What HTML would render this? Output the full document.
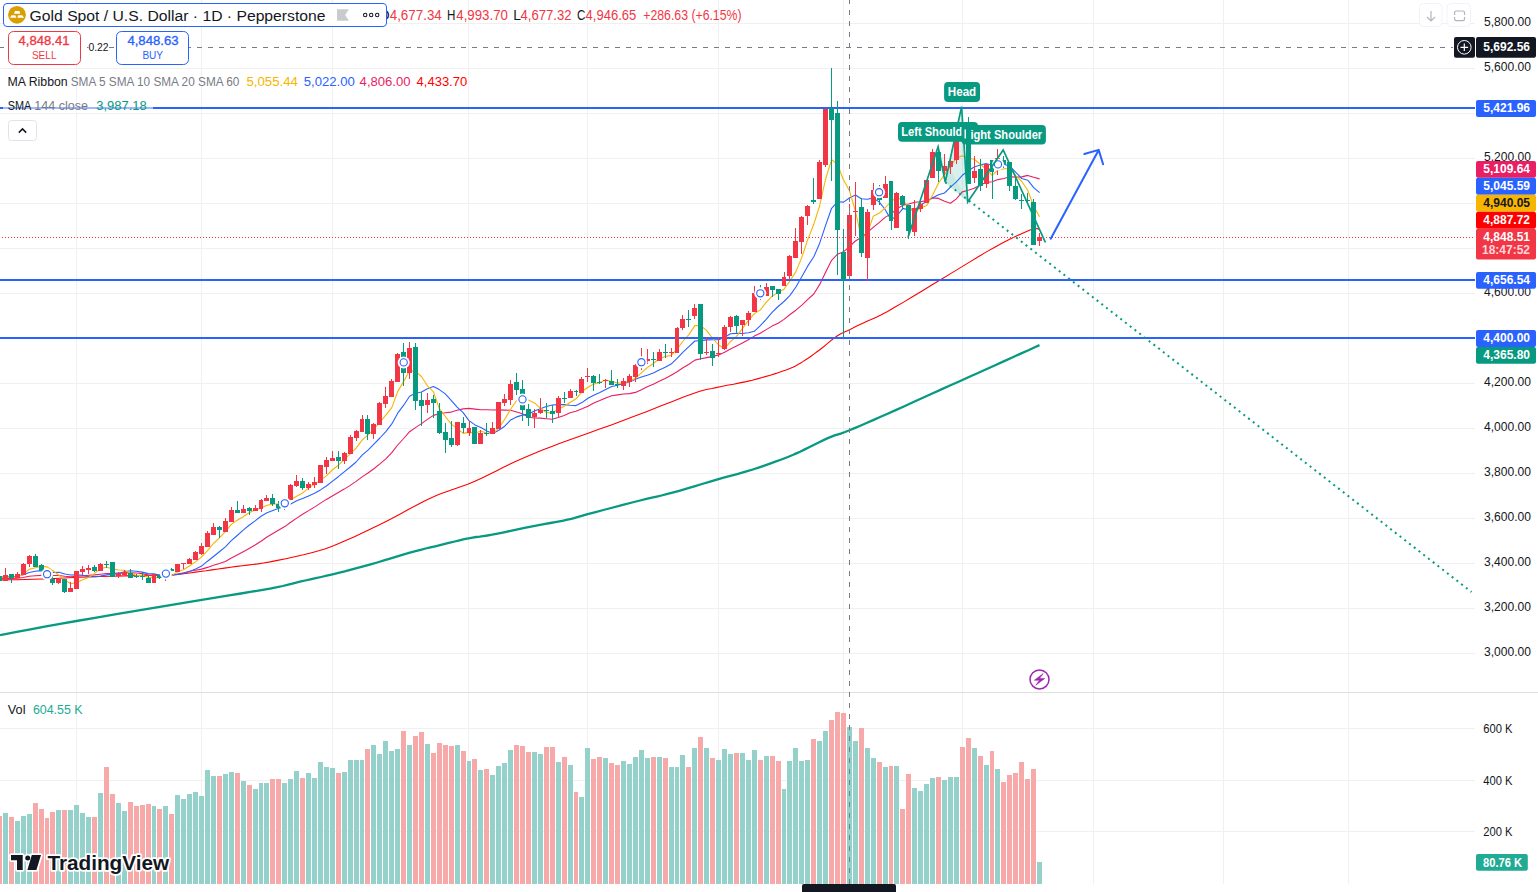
<!DOCTYPE html>
<html><head><meta charset="utf-8">
<style>
html,body{margin:0;padding:0;background:#fff;}
body{width:1538px;height:892px;overflow:hidden;position:relative;font-family:"Liberation Sans",sans-serif;color:#131722;}
svg{position:absolute;left:0;top:0;font-family:"Liberation Sans",sans-serif;}
.lg{position:absolute;white-space:nowrap;line-height:1;}
</style></head><body>
<svg width="1538" height="892" viewBox="0 0 1538 892">
<path d="M0 23.5H1475M0 68.5H1475M0 113.5H1475M0 158.5H1475M0 203.5H1475M0 248.5H1475M0 293.5H1475M0 338.5H1475M0 383.5H1475M0 428.5H1475M0 473.5H1475M0 518.5H1475M0 563.5H1475M0 608.5H1475M0 653.5H1475M0 728.5H1475M0 780.5H1475M0 831.5H1475M76.5 0V692M76.5 693V884M201.5 0V692M201.5 693V884M332.5 0V692M332.5 693V884M468.5 0V692M468.5 693V884M587.5 0V692M587.5 693V884M718.5 0V692M718.5 693V884M843.5 0V692M843.5 693V884M962.5 0V692M962.5 693V884M1093.5 0V692M1093.5 693V884M1223.5 0V692M1223.5 693V884M1348.5 0V692M1348.5 693V884" stroke="#F0F0F1" stroke-width="1" fill="none"/>
<rect x="0" y="692" width="1538" height="1" fill="#E0E0E2"/>
<path d="M3 813H8V884H3ZM15 821H20V884H15ZM21 816H26V884H21ZM27 814H32V884H27ZM56 810H61V884H56ZM68 810H73V884H68ZM74 805H79V884H74ZM80 813H85V884H80ZM86 817H91V884H86ZM98 793H103V884H98ZM116 803H121V884H116ZM122 811H127V884H122ZM152 806H156V884H152ZM163 806H168V884H163ZM175 795H180V884H175ZM181 799H186V884H181ZM187 794H192V884H187ZM193 792H198V884H193ZM199 796H204V884H199ZM205 770H210V884H205ZM211 776H216V884H211ZM223 774H228V884H223ZM229 772H234V884H229ZM241 781H246V884H241ZM253 789H258V884H253ZM259 783H263V884H259ZM264 783H269V884H264ZM282 783H287V884H282ZM288 779H293V884H288ZM294 771H299V884H294ZM306 773H311V884H306ZM312 778H317V884H312ZM318 762H323V884H318ZM324 767H329V884H324ZM330 768H335V884H330ZM342 772H347V884H342ZM348 760H353V884H348ZM354 760H359V884H354ZM360 760H364V884H360ZM371 745H376V884H371ZM377 754H382V884H377ZM383 741H388V884H383ZM389 751H394V884H389ZM395 749H400V884H395ZM407 745H412V884H407ZM425 744H430V884H425ZM455 745H460V884H455ZM467 761H471V884H467ZM478 770H483V884H478ZM490 775H495V884H490ZM496 766H501V884H496ZM502 763H507V884H502ZM508 750H513V884H508ZM532 752H537V884H532ZM538 754H543V884H538ZM556 762H561V884H556ZM568 765H573V884H568ZM579 797H584V884H579ZM585 748H590V884H585ZM603 758H608V884H603ZM621 761H626V884H621ZM627 764H632V884H627ZM633 757H638V884H633ZM639 750H644V884H639ZM645 758H650V884H645ZM657 757H662V884H657ZM669 767H674V884H669ZM675 767H679V884H675ZM680 755H685V884H680ZM692 748H697V884H692ZM704 748H709V884H704ZM716 760H721V884H716ZM722 749H727V884H722ZM728 754H733V884H728ZM740 753H745V884H740ZM746 760H751V884H746ZM752 750H757V884H752ZM764 756H769V884H764ZM782 789H786V884H782ZM787 761H792V884H787ZM793 748H798V884H793ZM799 761H804V884H799ZM805 760H810V884H805ZM817 741H822V884H817ZM823 731H828V884H823ZM847 727H852V884H847ZM853 741H858V884H853ZM865 748H870V884H865ZM871 758H876V884H871ZM883 767H888V884H883ZM894 766H899V884H894ZM912 788H917V884H912ZM918 791H923V884H918ZM924 784H929V884H924ZM930 778H935V884H930ZM942 780H947V884H942ZM948 777H953V884H948ZM954 777H959V884H954ZM972 748H977V884H972ZM984 765H989V884H984ZM995 769H1000V884H995ZM1037 862H1042V884H1037Z" fill="#93D1CA" shape-rendering="crispEdges"/>
<path d="M-3 816H2V884H-3ZM9 817H14V884H9ZM33 803H38V884H33ZM39 809H44V884H39ZM45 818H49V884H45ZM50 812H55V884H50ZM62 810H67V884H62ZM92 817H97V884H92ZM104 767H109V884H104ZM110 794H115V884H110ZM128 802H133V884H128ZM134 806H139V884H134ZM140 805H145V884H140ZM146 804H151V884H146ZM157 809H162V884H157ZM169 814H174V884H169ZM217 776H222V884H217ZM235 773H240V884H235ZM247 785H252V884H247ZM270 779H275V884H270ZM276 779H281V884H276ZM300 778H305V884H300ZM336 773H341V884H336ZM365 749H370V884H365ZM401 731H406V884H401ZM413 736H418V884H413ZM419 732H424V884H419ZM431 753H436V884H431ZM437 743H442V884H437ZM443 745H448V884H443ZM449 746H454V884H449ZM461 751H466V884H461ZM472 759H477V884H472ZM484 769H489V884H484ZM514 745H519V884H514ZM520 746H525V884H520ZM526 752H531V884H526ZM544 747H549V884H544ZM550 747H555V884H550ZM562 757H567V884H562ZM574 792H578V884H574ZM591 759H596V884H591ZM597 757H602V884H597ZM609 763H614V884H609ZM615 765H620V884H615ZM651 757H656V884H651ZM663 758H668V884H663ZM686 767H691V884H686ZM698 737H703V884H698ZM710 758H715V884H710ZM734 753H739V884H734ZM758 760H763V884H758ZM770 756H775V884H770ZM776 761H781V884H776ZM811 739H816V884H811ZM829 720H834V884H829ZM835 712H840V884H835ZM841 713H846V884H841ZM859 728H864V884H859ZM877 762H882V884H877ZM889 766H893V884H889ZM900 809H905V884H900ZM906 774H911V884H906ZM936 777H941V884H936ZM960 747H965V884H960ZM966 738H971V884H966ZM978 756H983V884H978ZM990 751H994V884H990ZM1001 782H1006V884H1001ZM1007 775H1012V884H1007ZM1013 773H1018V884H1013ZM1019 762H1024V884H1019ZM1025 779H1030V884H1025ZM1031 769H1036V884H1031Z" fill="#F7A9A9" shape-rendering="crispEdges"/>
<path d="M0.0 635.1 L7.8 633.6 L18.1 631.7 L30.5 629.4 L44.7 626.7 L60.1 623.9 L76.5 621.0 L95.0 617.8 L116.3 614.2 L138.8 610.4 L161.3 606.6 L182.2 603.1 L200.3 600.1 L215.5 597.6 L229.0 595.4 L241.0 593.5 L251.7 591.7 L261.3 590.1 L270.0 588.6 L277.3 587.2 L282.8 586.0 L287.3 584.9 L291.3 583.9 L295.3 582.8 L300.0 581.7 L305.2 580.5 L310.4 579.4 L315.7 578.2 L321.2 577.0 L326.7 575.7 L332.5 574.3 L338.5 572.8 L344.7 571.3 L351.1 569.6 L357.6 567.9 L364.1 566.2 L370.6 564.4 L377.2 562.5 L384.0 560.4 L390.8 558.3 L397.4 556.3 L403.9 554.3 L409.9 552.6 L415.5 551.1 L420.7 549.8 L425.6 548.5 L430.4 547.4 L435.2 546.3 L440.0 545.1 L444.9 543.9 L449.8 542.7 L454.7 541.5 L459.5 540.3 L464.2 539.2 L468.6 538.3 L472.6 537.6 L476.2 537.0 L479.7 536.6 L483.2 536.1 L487.3 535.5 L492.0 534.7 L497.6 533.6 L503.9 532.3 L510.7 530.9 L517.6 529.4 L524.5 527.9 L531.0 526.6 L537.4 525.4 L543.9 524.2 L550.4 523.0 L556.6 521.9 L562.3 520.8 L567.4 519.7 L571.3 518.8 L574.1 518.1 L576.5 517.4 L579.1 516.6 L582.6 515.6 L587.6 514.2 L594.7 512.3 L603.4 510.0 L613.0 507.5 L622.8 504.9 L632.1 502.5 L640.0 500.5 L646.4 498.9 L651.9 497.7 L656.8 496.6 L661.5 495.5 L666.6 494.2 L672.4 492.7 L679.2 490.8 L686.6 488.6 L694.3 486.3 L702.0 484.0 L709.3 481.8 L716.0 479.8 L721.9 478.1 L727.3 476.7 L732.3 475.4 L737.2 474.1 L742.1 472.7 L747.3 471.2 L752.8 469.5 L758.6 467.6 L764.4 465.6 L770.0 463.6 L775.3 461.7 L780.0 460.0 L784.0 458.5 L787.3 457.2 L790.3 456.0 L793.2 454.8 L796.3 453.4 L800.0 451.7 L804.3 449.6 L809.1 447.3 L814.1 444.8 L819.2 442.2 L824.0 439.9 L828.4 437.9 L832.1 436.4 L835.3 435.2 L838.3 434.3 L841.4 433.3 L845.0 432.0 L849.4 430.3 L854.6 428.1 L860.3 425.7 L866.5 423.0 L873.1 420.1 L880.1 417.0 L887.6 413.7 L895.7 410.1 L904.4 406.2 L913.5 402.0 L922.9 397.8 L932.3 393.5 L941.4 389.4 L950.5 385.3 L959.7 381.2 L968.9 377.0 L978.0 373.0 L986.8 369.0 L995.2 365.2 L1003.6 361.4 L1012.3 357.5 L1020.7 353.6 L1028.4 350.2 L1034.8 347.2 L1039.5 345.1" stroke="#089981" stroke-width="2.3" fill="none" stroke-linejoin="round"/>
<path d="M0.0 580.0 L4.4 579.9 L10.3 579.8 L17.4 579.7 L25.3 579.5 L33.6 579.3 L42.0 579.0 L50.6 578.7 L59.7 578.3 L69.2 577.8 L79.1 577.3 L89.4 576.9 L100.0 576.5 L111.6 576.2 L124.3 575.9 L137.3 575.6 L150.0 575.3 L161.5 575.0 L171.1 574.6 L178.3 574.2 L183.7 573.7 L187.9 573.3 L191.6 572.7 L195.5 572.1 L200.3 571.5 L206.0 570.8 L212.0 569.9 L218.2 569.0 L224.5 568.1 L230.7 567.2 L236.7 566.4 L242.2 565.7 L247.5 565.1 L252.6 564.5 L257.9 563.9 L263.6 563.0 L270.0 561.9 L277.5 560.4 L285.8 558.7 L294.7 556.8 L303.4 554.8 L311.6 552.7 L318.8 550.8 L324.7 549.0 L329.6 547.3 L334.0 545.6 L338.3 543.8 L342.8 541.8 L348.0 539.5 L353.9 536.9 L360.1 534.1 L366.5 531.0 L373.2 527.8 L380.0 524.5 L387.0 521.0 L394.2 517.3 L401.6 513.2 L409.2 509.1 L416.9 504.9 L424.5 501.0 L431.9 497.4 L439.2 494.3 L446.3 491.7 L453.5 489.2 L460.6 486.7 L467.7 484.2 L474.8 481.3 L482.0 478.1 L489.1 474.6 L496.3 471.0 L503.4 467.3 L510.6 463.8 L517.7 460.5 L524.6 457.5 L531.1 454.7 L537.6 452.0 L544.4 449.3 L551.8 446.4 L560.0 443.3 L569.1 439.9 L579.0 436.4 L589.5 432.7 L600.3 428.8 L611.3 424.9 L622.4 420.8 L634.2 416.3 L647.0 411.4 L659.9 406.3 L672.4 401.4 L683.5 397.1 L692.6 393.8 L699.1 391.6 L703.4 390.2 L706.4 389.5 L709.0 389.0 L711.9 388.5 L716.0 387.6 L721.3 386.5 L727.2 385.3 L733.4 384.2 L739.8 382.9 L746.2 381.6 L752.2 380.2 L758.2 378.6 L764.3 376.9 L770.3 375.2 L776.1 373.4 L781.4 371.6 L786.0 370.0 L789.8 368.5 L792.9 367.2 L795.5 365.9 L797.9 364.6 L800.3 363.2 L802.9 361.6 L805.7 359.8 L808.5 358.0 L811.3 356.0 L814.2 353.9 L817.0 351.8 L819.8 349.7 L822.7 347.5 L825.6 345.1 L828.5 342.6 L831.4 340.2 L834.1 338.1 L836.7 336.2 L839.1 334.7 L841.3 333.5 L843.4 332.5 L845.5 331.6 L847.5 330.7 L849.4 329.8 L851.1 328.9 L852.5 328.2 L853.8 327.5 L855.3 326.7 L857.3 325.7 L860.0 324.4 L863.3 322.9 L867.0 321.3 L871.1 319.6 L875.8 317.4 L881.3 314.8 L887.6 311.4 L895.1 307.1 L903.6 302.1 L912.9 296.5 L922.5 290.7 L932.1 284.8 L941.4 279.2 L950.6 273.6 L960.0 267.9 L969.5 262.1 L978.7 256.5 L987.3 251.4 L995.2 246.9 L1002.4 243.0 L1009.2 239.5 L1015.4 236.5 L1021.0 233.9 L1026.0 231.7 L1030.1 230.0 L1033.3 228.9 L1035.5 228.6 L1037.0 228.6 L1038.1 229.0 L1038.9 229.3 L1039.6 229.4" stroke="#FF0000" stroke-width="1.1" fill="none" stroke-linejoin="round"/>
<path d="M-0.5 578.6 L5.5 578.4 L11.4 578.4 L17.3 578.2 L23.3 577.5 L29.2 576.3 L35.2 575.8 L41.1 575.4 L47.1 575.3 L53.0 575.5 L58.9 575.5 L64.9 576.2 L70.8 576.7 L76.8 576.3 L82.7 575.8 L88.7 575.3 L94.6 574.9 L100.5 574.2 L106.5 573.5 L112.4 573.4 L118.4 573.1 L124.3 572.9 L130.3 572.9 L136.2 573.0 L142.1 573.6 L148.1 575.0 L154.0 575.4 L160.0 575.7 L165.9 575.4 L171.9 574.8 L177.8 574.1 L183.8 572.7 L189.7 571.2 L195.6 570.2 L201.6 569.1 L207.5 567.4 L213.5 565.2 L219.4 563.5 L225.4 561.4 L231.3 558.0 L237.2 555.0 L243.2 551.8 L249.1 548.5 L255.1 545.0 L261.0 541.2 L267.0 537.0 L272.9 533.5 L278.8 530.0 L284.8 526.6 L290.7 522.2 L296.7 518.1 L302.6 514.3 L308.6 510.6 L314.5 507.1 L320.5 503.1 L326.4 499.4 L332.3 496.0 L338.3 492.5 L344.2 489.1 L350.2 485.4 L356.1 481.4 L362.1 476.9 L368.0 473.0 L373.9 468.8 L379.9 463.9 L385.8 458.8 L391.8 452.7 L397.7 445.0 L403.7 438.5 L409.6 431.7 L415.5 427.6 L421.5 423.6 L427.4 419.4 L433.4 415.4 L439.3 413.8 L445.3 412.8 L451.2 412.1 L457.1 410.2 L463.1 408.9 L469.0 408.4 L475.0 409.1 L480.9 409.8 L486.9 409.8 L492.8 410.0 L498.8 409.9 L504.7 410.1 L510.6 410.2 L516.6 412.0 L522.5 413.8 L528.5 417.3 L534.4 418.0 L540.4 418.1 L546.3 418.7 L552.2 419.2 L558.2 417.5 L564.1 415.4 L570.1 412.7 L576.0 411.2 L582.0 408.8 L587.9 406.2 L593.8 403.1 L599.8 400.6 L605.7 397.9 L611.7 395.8 L617.6 394.9 L623.6 394.0 L629.5 393.6 L635.5 392.4 L641.4 389.8 L647.3 386.8 L653.3 384.2 L659.2 381.3 L665.2 378.4 L671.1 375.3 L677.1 371.8 L683.0 367.8 L688.9 364.3 L694.9 360.1 L700.8 358.8 L706.8 357.6 L712.7 356.4 L718.7 354.9 L724.6 352.3 L730.5 348.9 L736.5 345.9 L742.4 342.9 L748.4 339.7 L754.3 336.1 L760.3 333.2 L766.2 329.6 L772.1 326.1 L778.1 323.2 L784.0 319.4 L790.0 314.5 L795.9 310.2 L801.9 305.1 L807.8 299.4 L813.8 294.0 L819.7 284.4 L825.6 272.3 L831.6 260.3 L837.5 254.2 L843.5 251.8 L849.4 246.7 L855.4 241.0 L861.3 237.6 L867.2 232.6 L873.2 227.4 L879.1 222.6 L885.1 217.4 L891.0 213.9 L897.0 208.9 L902.9 205.3 L908.8 204.0 L914.8 202.3 L920.7 201.7 L926.7 200.4 L932.6 197.9 L938.6 198.4 L944.5 201.3 L950.5 203.3 L956.4 198.9 L962.3 191.9 L968.3 190.3 L974.2 188.3 L980.2 184.9 L986.1 182.5 L992.1 181.7 L998.0 179.6 L1003.9 178.5 L1009.9 176.8 L1015.8 177.1 L1021.8 176.9 L1027.7 175.4 L1033.7 177.3 L1039.6 178.9" stroke="#E91E63" stroke-width="1.1" fill="none" stroke-linejoin="round"/>
<path d="M-0.5 577.0 L5.5 576.7 L11.4 576.6 L17.3 576.2 L23.3 574.7 L29.2 572.5 L35.2 571.3 L41.1 570.6 L47.1 571.3 L53.0 572.5 L58.9 572.3 L64.9 574.0 L70.8 575.0 L76.8 574.7 L82.7 575.2 L88.7 576.4 L94.6 576.8 L100.5 576.1 L106.5 574.9 L112.4 574.3 L118.4 573.8 L124.3 571.8 L130.3 570.8 L136.2 571.3 L142.1 572.1 L148.1 573.6 L154.0 573.9 L160.0 575.3 L165.9 575.9 L171.9 575.4 L177.8 574.4 L183.8 573.5 L189.7 571.6 L195.6 569.1 L201.6 566.1 L207.5 561.2 L213.5 556.5 L219.4 551.8 L225.4 546.8 L231.3 540.6 L237.2 535.5 L243.2 530.1 L249.1 525.3 L255.1 520.9 L261.0 516.3 L267.0 512.8 L272.9 510.5 L278.8 508.3 L284.8 506.4 L290.7 503.9 L296.7 500.7 L302.6 498.6 L308.6 495.9 L314.5 493.3 L320.5 489.9 L326.4 486.0 L332.3 481.4 L338.3 476.7 L344.2 471.8 L350.2 467.0 L356.1 462.0 L362.1 455.1 L368.0 450.1 L373.9 444.2 L379.9 438.0 L385.8 431.6 L391.8 423.9 L397.7 413.2 L403.7 405.2 L409.6 396.3 L415.5 393.3 L421.5 392.0 L427.4 388.7 L433.4 386.6 L439.3 389.6 L445.3 393.9 L451.2 400.3 L457.1 407.1 L463.1 412.6 L469.0 420.6 L475.0 424.9 L480.9 427.5 L486.9 430.9 L492.8 433.4 L498.8 430.3 L504.7 426.2 L510.6 420.1 L516.6 416.9 L522.5 415.1 L528.5 414.1 L534.4 411.1 L540.4 408.8 L546.3 406.5 L552.2 405.0 L558.2 404.6 L564.1 404.6 L570.1 405.3 L576.0 405.6 L582.0 402.6 L587.9 398.3 L593.8 395.2 L599.8 392.5 L605.7 389.4 L611.7 386.5 L617.6 385.2 L623.6 383.4 L629.5 381.9 L635.5 379.2 L641.4 377.0 L647.3 375.3 L653.3 373.1 L659.2 370.0 L665.2 367.3 L671.1 364.1 L677.1 358.4 L683.0 352.2 L688.9 346.7 L694.9 341.0 L700.8 340.6 L706.8 339.9 L712.7 339.7 L718.7 339.8 L724.6 337.2 L730.5 333.7 L736.5 333.4 L742.4 333.5 L748.4 332.8 L754.3 331.3 L760.3 325.7 L766.2 319.3 L772.1 312.4 L778.1 306.5 L784.0 301.5 L790.0 295.4 L795.9 287.0 L801.9 276.6 L807.8 265.9 L813.8 256.8 L819.7 243.2 L825.6 225.3 L831.6 208.3 L837.5 201.8 L843.5 202.1 L849.4 198.0 L855.4 195.0 L861.3 198.7 L867.2 199.3 L873.2 198.1 L879.1 201.9 L885.1 209.5 L891.0 219.6 L897.0 215.9 L902.9 208.4 L908.8 210.0 L914.8 209.7 L920.7 204.8 L926.7 201.6 L932.6 197.7 L938.6 194.8 L944.5 193.0 L950.5 187.1 L956.4 181.8 L962.3 175.3 L968.3 170.7 L974.2 167.0 L980.2 165.1 L986.1 163.5 L992.1 165.6 L998.0 164.3 L1003.9 164.0 L1009.9 166.5 L1015.8 172.3 L1021.8 178.5 L1027.7 180.2 L1033.7 187.6 L1039.6 192.7" stroke="#2962FF" stroke-width="1.1" fill="none" stroke-linejoin="round"/>
<path d="M-0.5 576.9 L5.5 576.7 L11.4 577.1 L17.3 576.8 L23.3 574.4 L29.2 569.4 L35.2 567.8 L41.1 566.4 L47.1 566.9 L53.0 570.7 L58.9 575.2 L64.9 580.3 L70.8 583.7 L76.8 582.5 L82.7 579.8 L88.7 577.5 L94.6 573.4 L100.5 568.6 L106.5 567.2 L112.4 568.7 L118.4 570.0 L124.3 570.2 L130.3 573.0 L136.2 575.5 L142.1 575.4 L148.1 577.1 L154.0 577.6 L160.0 577.6 L165.9 576.4 L171.9 575.4 L177.8 571.7 L183.8 569.5 L189.7 565.7 L195.6 561.9 L201.6 556.9 L207.5 550.7 L213.5 543.5 L219.4 537.8 L225.4 531.6 L231.3 524.4 L237.2 520.3 L243.2 516.7 L249.1 512.8 L255.1 510.1 L261.0 508.1 L267.0 505.3 L272.9 504.3 L278.8 503.8 L284.8 502.6 L290.7 499.6 L296.7 496.2 L302.6 492.9 L308.6 488.1 L314.5 484.1 L320.5 480.1 L326.4 475.9 L332.3 470.0 L338.3 465.3 L344.2 459.5 L350.2 453.9 L356.1 448.1 L362.1 440.2 L368.0 434.9 L373.9 429.0 L379.9 422.2 L385.8 415.2 L391.8 407.6 L397.7 391.6 L403.7 381.4 L409.6 370.5 L415.5 371.4 L421.5 376.5 L427.4 385.8 L433.4 391.7 L439.3 408.7 L445.3 416.5 L451.2 424.1 L457.1 428.4 L463.1 433.4 L469.0 432.4 L475.0 433.2 L480.9 430.9 L486.9 433.3 L492.8 433.3 L498.8 428.1 L504.7 419.2 L510.6 409.3 L516.6 400.5 L522.5 396.8 L528.5 400.1 L534.4 402.9 L540.4 408.2 L546.3 412.4 L552.2 413.3 L558.2 409.2 L564.1 406.3 L570.1 402.5 L576.0 398.8 L582.0 391.8 L587.9 387.3 L593.8 384.1 L599.8 382.5 L605.7 380.1 L611.7 381.2 L617.6 383.1 L623.6 382.7 L629.5 381.4 L635.5 378.3 L641.4 372.8 L647.3 367.6 L653.3 363.5 L659.2 358.7 L665.2 356.4 L671.1 355.5 L677.1 349.2 L683.0 341.0 L688.9 334.6 L694.9 325.6 L700.8 325.8 L706.8 330.6 L712.7 338.5 L718.7 345.0 L724.6 348.8 L730.5 341.5 L736.5 336.3 L742.4 328.6 L748.4 320.6 L754.3 313.7 L760.3 309.9 L766.2 302.3 L772.1 296.2 L778.1 292.4 L784.0 289.3 L790.0 280.9 L795.9 271.6 L801.9 257.1 L807.8 239.4 L813.8 224.3 L819.7 205.5 L825.6 179.0 L831.6 159.6 L837.5 164.3 L843.5 180.0 L849.4 190.6 L855.4 211.0 L861.3 237.8 L867.2 234.2 L873.2 216.3 L879.1 213.3 L885.1 208.0 L891.0 201.4 L897.0 197.6 L902.9 200.5 L908.8 206.7 L914.8 211.4 L920.7 208.1 L926.7 205.6 L932.6 194.9 L938.6 183.0 L944.5 174.6 L950.5 166.0 L956.4 158.1 L962.3 155.7 L968.3 158.3 L974.2 159.3 L980.2 164.2 L986.1 169.0 L992.1 175.4 L998.0 170.2 L1003.9 168.8 L1009.9 168.8 L1015.8 175.7 L1021.8 181.5 L1027.7 190.2 L1033.7 206.3 L1039.6 216.7" stroke="#F7B500" stroke-width="1.1" fill="none" stroke-linejoin="round"/>
<rect x="0" y="107" width="1475" height="2" fill="#2962FF"/>
<rect x="0" y="279" width="1475" height="2" fill="#2962FF"/>
<rect x="0" y="337" width="1475" height="2" fill="#2962FF"/>
<line x1="0" y1="237.5" x2="1475" y2="237.5" stroke="#F23645" stroke-width="1" stroke-dasharray="1 2" stroke-dashoffset="1"/>
<line x1="0" y1="47.5" x2="1453" y2="47.5" stroke="#787B86" stroke-width="1" stroke-dasharray="5 6" stroke-dashoffset="1"/>
<path d="M945.2 182.2 L961.6 106.6 L967.7 201.9 Z" fill="rgba(8,153,129,0.15)"/>
<path d="M938.1 146.8 L945.2 182.2 L967.7 201.9 Z" fill="rgba(8,153,129,0.08)"/>
<path d="M5 568H6V581H5ZM17 572H18V578H17ZM23 563H24V575H23ZM29 555H30V567H29ZM58 579H59V584H58ZM70 582H71V592H70ZM76 571H77V589H76ZM82 566H83V575H82ZM88 565H89V574H88ZM100 563H101V571H100ZM118 572H119V578H118ZM124 570H125V575H124ZM154 574H155V583H154ZM165 570H166V581H165ZM177 564H178V572H177ZM183 563H184V569H183ZM189 558H190V564H189ZM195 551H196V560H195ZM201 543H202V555H201ZM207 531H208V547H207ZM213 523H214V535H213ZM225 518H226V532H225ZM231 507H232V522H231ZM243 505H244V513H243ZM255 505H256V511H255ZM261 499H262V512H261ZM266 495H267V501H266ZM284 501H285V510H284ZM290 484H291V500H290ZM296 475H297V487H296ZM308 482H309V490H308ZM314 477H315V488H314ZM320 465H321V483H320ZM326 457H327V474H326ZM332 451H333V461H332ZM344 452H345V464H344ZM350 435H351V454H350ZM356 430H357V441H356ZM362 415H363V432H362ZM373 423H374V439H373ZM379 402H380V425H379ZM385 387H386V408H385ZM391 379H392V397H391ZM397 353H398V382H397ZM409 342H410V379H409ZM427 393H428V413H427ZM457 422H458V446H457ZM469 421H470V436H469ZM480 430H481V444H480ZM492 422H493V434H492ZM498 402H499V429H498ZM504 394H505V406H504ZM510 380H511V405H510ZM534 409H535V428H534ZM540 398H541V414H540ZM558 396H559V418H558ZM570 389H571V398H570ZM581 377H582V393H581ZM587 368H588V382H587ZM605 379H606V388H605ZM623 378H624V390H623ZM629 374H630V387H629ZM635 364H636V382H635ZM641 348H642V370H641ZM647 349H648V364H647ZM659 349H660V361H659ZM671 348H672V357H671ZM677 327H678V353H677ZM682 315H683V330H682ZM694 304H695V319H694ZM706 337H707V355H706ZM718 337H719V357H718ZM724 325H725V350H724ZM730 316H731V332H730ZM742 320H743V336H742ZM748 311H749V326H748ZM754 286H755V312H754ZM766 283H767V296H766ZM784 272H785V286H784ZM789 255H790V280H789ZM795 228H796V258H795ZM801 216H802V254H801ZM807 205H808V225H807ZM819 160H820V199H819ZM825 109H826V167H825ZM849 204H850V276H849ZM855 182H856V236H855ZM867 209H868V281H867ZM873 183H874V210H873ZM885 176H886V198H885ZM896 192H897V228H896ZM914 200H915V236H914ZM920 199H921V212H920ZM926 180H927V203H926ZM932 149H933V178H932ZM944 154H945V175H944ZM950 157H951V174H950ZM956 140H957V164H956ZM974 156H975V183H974ZM986 164H987V188H986ZM997 149H998V175H997ZM1039 233H1040V246H1039ZM3 575H8V581H3ZM15 574H20V578H15ZM21 564H26V575H21ZM27 556H32V564H27ZM56 579H61V583H56ZM68 588H73V592H68ZM74 571H79V589H74ZM80 569H85V572H80ZM86 568H91V570H86ZM98 564H103V571H98ZM116 574H121V576H116ZM122 572H127V575H122ZM152 574H156V583H152ZM163 571H168V576H163ZM175 564H180V572H175ZM181 563H186V564H181ZM187 559H192V564H187ZM193 552H198V560H193ZM199 546H204V554H199ZM205 533H210V547H205ZM211 527H216V535H211ZM223 521H228V532H223ZM229 510H234V522H229ZM241 509H246V513H241ZM253 508H258V511H253ZM259 500H263V509H259ZM264 498H269V501H264ZM282 502H287V506H282ZM288 485H293V500H288ZM294 481H299V486H294ZM306 484H311V488H306ZM312 482H317V485H312ZM318 465H323V483H318ZM324 460H329V467H324ZM330 458H335V461H330ZM342 453H347V461H342ZM348 437H353V454H348ZM354 431H359V438H354ZM360 419H364V432H360ZM371 424H376V434H371ZM377 403H382V425H377ZM383 396H388V404H383ZM389 381H394V397H389ZM395 354H400V382H395ZM407 348H412V373H407ZM425 400H430V405H425ZM455 422H460V445H455ZM467 428H471V433H467ZM478 433H483V444H478ZM490 428H495V434H490ZM496 402H501V429H496ZM502 399H507V403H502ZM508 384H513V400H508ZM532 413H537V417H532ZM538 410H543V413H538ZM556 398H561V413H556ZM568 391H573V398H568ZM579 379H584V393H579ZM585 376H590V377H585ZM603 380H608V381H603ZM621 381H626V386H621ZM627 376H632V382H627ZM633 365H638V377H633ZM639 357H644V367H639ZM645 359H650V361H645ZM657 352H662V361H657ZM669 352H674V353H669ZM675 328H679V353H675ZM680 319H685V328H680ZM692 308H697V316H692ZM704 352H709V353H704ZM716 353H721V354H716ZM722 327H727V349H722ZM728 317H733V327H728ZM740 320H745V325H740ZM746 313H751V320H746ZM752 293H757V312H752ZM764 287H769V296H764ZM782 277H786V286H782ZM787 256H792V276H787ZM793 241H798V258H793ZM799 217H804V242H799ZM805 206H810V216H805ZM817 162H822V199H817ZM823 109H828V165H823ZM847 215H852V276H847ZM853 211H858V212H853ZM865 212H870V258H865ZM871 190H876V205H871ZM883 184H888V198H883ZM894 193H899V228H894ZM912 208H917V232H912ZM918 204H923V209H918ZM924 180H929V203H924ZM930 152H935V178H930ZM942 166H947V171H942ZM948 161H953V167H948ZM954 140H959V160H954ZM972 171H977V178H972ZM984 164H989V184H984ZM995 158H1000V170H995ZM1037 237H1042V241H1037Z" fill="#F23645" shape-rendering="crispEdges"/>
<path d="M-1 576H0V581H-1ZM11 574H12V583H11ZM35 554H36V567H35ZM41 564H42V571H41ZM47 570H48V578H47ZM52 575H53V585H52ZM64 579H65V593H64ZM94 565H95V572H94ZM106 561H107V568H106ZM112 562H113V577H112ZM130 569H131V578H130ZM136 574H137V578H136ZM142 572H143V580H142ZM148 576H149V583H148ZM159 575H160V579H159ZM171 568H172V571H171ZM219 526H220V538H219ZM237 501H238V513H237ZM249 507H250V515H249ZM272 494H273V506H272ZM278 501H279V512H278ZM302 478H303V490H302ZM338 451H339V469H338ZM367 415H368V440H367ZM403 343H404V386H403ZM415 343H416V410H415ZM421 392H422V426H421ZM433 395H434V418H433ZM439 403H440V434H439ZM445 423H446V453H445ZM451 421H452V447H451ZM463 417H464V433H463ZM474 427H475V444H474ZM486 423H487V436H486ZM516 373H517V395H516ZM522 380H523V421H522ZM528 404H529V426H528ZM546 403H547V418H546ZM552 405H553V423H552ZM564 392H565V403H564ZM576 390H577V396H576ZM593 375H594V391H593ZM599 374H600V384H599ZM611 370H612V385H611ZM617 379H618V388H617ZM653 352H654V367H653ZM665 344H666V358H665ZM688 310H689V327H688ZM700 304H701V360H700ZM712 344H713V366H712ZM736 315H737V333H736ZM760 285H761V300H760ZM772 286H773V297H772ZM778 289H779V300H778ZM813 178H814V204H813ZM831 68H832V181H831ZM837 101H838V275H837ZM843 229H844V338H843ZM861 198H862V257H861ZM879 185H880V205H879ZM891 181H892V230H891ZM902 195H903V210H902ZM908 205H909V239H908ZM938 147H939V182H938ZM962 122H963V142H962ZM968 117H969V184H968ZM980 159H981V191H980ZM992 160H993V199H992ZM1003 156H1004V168H1003ZM1009 162H1010V191H1009ZM1015 177H1016V200H1015ZM1021 194H1022V209H1021ZM1027 193H1028V204H1027ZM1033 199H1034V245H1033ZM-3 576H2V581H-3ZM9 574H14V578H9ZM33 556H38V567H33ZM39 565H44V571H39ZM45 571H49V577H45ZM50 579H55V583H50ZM62 579H67V592H62ZM92 567H97V571H92ZM104 564H109V565H104ZM110 562H115V577H110ZM128 573H133V578H128ZM134 576H139V577H134ZM140 576H145V577H140ZM146 578H151V583H146ZM157 575H162V578H157ZM169 569H174V571H169ZM217 527H222V530H217ZM235 510H240V513H235ZM247 508H252V511H247ZM270 498H275V504H270ZM276 504H281V508H276ZM300 481H305V488H300ZM336 457H341V461H336ZM365 419H370V434H365ZM401 352H406V373H401ZM413 347H418V401H413ZM419 400H424V406H419ZM431 399H436V403H431ZM437 411H442V433H437ZM443 432H448V440H443ZM449 438H454V445H449ZM461 423H466V428H461ZM472 427H477V444H472ZM484 433H489V434H484ZM514 382H519V390H514ZM520 389H525V410H520ZM526 409H531V418H526ZM544 410H549V411H544ZM550 411H555V414H550ZM562 398H567V399H562ZM574 391H578V392H574ZM591 376H596V383H591ZM597 382H602V383H597ZM609 381H614V385H609ZM615 384H620V385H615ZM651 359H656V360H651ZM663 352H668V353H663ZM686 319H691V320H686ZM698 304H703V354H698ZM710 351H715V358H710ZM734 316H739V326H734ZM758 288H763V298H758ZM770 286H775V290H770ZM776 289H781V294H776ZM811 200H816V202H811ZM829 108H834V120H829ZM835 113H840V230H835ZM841 252H846V280H841ZM859 207H864V253H859ZM877 188H882V200H877ZM889 181H893V221H889ZM900 196H905V205H900ZM906 205H911V231H906ZM936 152H941V171H936ZM960 125H965V140H960ZM966 125H971V184H966ZM978 169H983V186H978ZM990 160H994V172H990ZM1001 160H1006V164H1001ZM1007 162H1012V186H1007ZM1013 186H1018V199H1013ZM1019 200H1024V201H1019ZM1025 200H1030V201H1025ZM1031 202H1036V245H1031Z" fill="#089981" shape-rendering="crispEdges"/>
<circle cx="47.1" cy="574.2" r="6" fill="#fff"/><circle cx="47.1" cy="574.2" r="3.6" fill="#fff" stroke="#2962FF" stroke-width="1.1"/>
<circle cx="165.9" cy="573.6" r="6" fill="#fff"/><circle cx="165.9" cy="573.6" r="3.6" fill="#fff" stroke="#2962FF" stroke-width="1.1"/>
<circle cx="284.8" cy="503.3" r="6" fill="#fff"/><circle cx="284.8" cy="503.3" r="3.6" fill="#fff" stroke="#2962FF" stroke-width="1.1"/>
<circle cx="403.7" cy="362.4" r="6" fill="#fff"/><circle cx="403.7" cy="362.4" r="3.6" fill="#fff" stroke="#2962FF" stroke-width="1.1"/>
<circle cx="522.5" cy="399.4" r="6" fill="#fff"/><circle cx="522.5" cy="399.4" r="3.6" fill="#fff" stroke="#2962FF" stroke-width="1.1"/>
<circle cx="641.4" cy="362.2" r="6" fill="#fff"/><circle cx="641.4" cy="362.2" r="3.6" fill="#fff" stroke="#2962FF" stroke-width="1.1"/>
<circle cx="760.3" cy="293.3" r="6" fill="#fff"/><circle cx="760.3" cy="293.3" r="3.6" fill="#fff" stroke="#2962FF" stroke-width="1.1"/>
<circle cx="879.1" cy="192.2" r="6" fill="#fff"/><circle cx="879.1" cy="192.2" r="3.6" fill="#fff" stroke="#2962FF" stroke-width="1.1"/>
<circle cx="998.0" cy="164.4" r="6" fill="#fff"/><circle cx="998.0" cy="164.4" r="3.6" fill="#fff" stroke="#2962FF" stroke-width="1.1"/>
<path d="M907.9 237.8 L938.1 146.8 L945.2 182.2 L961.6 106.6 L967.7 201.9 L1003.2 149.9 L1045.4 242.3" stroke="#089981" stroke-width="1.7" fill="none" stroke-linejoin="miter"/>
<line x1="945.2" y1="182.2" x2="1471.5" y2="592" stroke="#089981" stroke-width="2" stroke-dasharray="2 4"/>
<path d="M1050.7 238.7 L1098.7 149.9 M1084.3 154 L1098.7 149.9 L1103.1 164.2" stroke="#2962FF" stroke-width="2" fill="none" stroke-linecap="round" stroke-linejoin="round"/>
<rect x="944.1" y="82" width="35.9" height="19.9" rx="4" fill="#089981"/>
<text x="947.8" y="96.1" font-size="12.5" font-weight="bold" fill="#fff" textLength="28.4" lengthAdjust="spacingAndGlyphs">Head</text>
<rect x="898" y="122" width="80" height="19.7" rx="4" fill="#089981"/>
<text x="901.3" y="136" font-size="12.5" font-weight="bold" fill="#fff" textLength="71.5" lengthAdjust="spacingAndGlyphs">Left Shoulder</text>
<rect x="961.5" y="125" width="84.4" height="19.5" rx="4" fill="#089981"/>
<text x="970.4" y="138.5" font-size="12.5" font-weight="bold" fill="#fff" textLength="71.8" lengthAdjust="spacingAndGlyphs">ight Shoulder</text>
<rect x="964.5" y="129.5" width="1.5" height="9" fill="#fff"/>
<rect x="966" y="122" width="5" height="62" fill="#089981"/>
<line x1="849.5" y1="0" x2="849.5" y2="884" stroke="#787B86" stroke-width="1" stroke-dasharray="5 6" stroke-dashoffset="-10"/>
<circle cx="1039.5" cy="679.4" r="9.5" fill="#fff" stroke="#9C27B0" stroke-width="1.5"/>
<path d="M1043.2 673.6L1034.4 680.2H1039.6L1035.8 685.2L1044.6 678.6H1039.4Z" fill="#9C27B0" stroke="#9C27B0" stroke-width="0.6" stroke-linejoin="round"/>
<text x="1484" y="25.5" font-size="12.4" fill="#131722" textLength="47" lengthAdjust="spacingAndGlyphs">5,800.00</text>
<text x="1484" y="70.5" font-size="12.4" fill="#131722" textLength="47" lengthAdjust="spacingAndGlyphs">5,600.00</text>
<text x="1484" y="160.5" font-size="12.4" fill="#131722" textLength="47" lengthAdjust="spacingAndGlyphs">5,200.00</text>
<text x="1484" y="295.5" font-size="12.4" fill="#131722" textLength="47" lengthAdjust="spacingAndGlyphs">4,600.00</text>
<text x="1484" y="385.5" font-size="12.4" fill="#131722" textLength="47" lengthAdjust="spacingAndGlyphs">4,200.00</text>
<text x="1484" y="430.5" font-size="12.4" fill="#131722" textLength="47" lengthAdjust="spacingAndGlyphs">4,000.00</text>
<text x="1484" y="475.5" font-size="12.4" fill="#131722" textLength="47" lengthAdjust="spacingAndGlyphs">3,800.00</text>
<text x="1484" y="520.5" font-size="12.4" fill="#131722" textLength="47" lengthAdjust="spacingAndGlyphs">3,600.00</text>
<text x="1484" y="565.5" font-size="12.4" fill="#131722" textLength="47" lengthAdjust="spacingAndGlyphs">3,400.00</text>
<text x="1484" y="610.5" font-size="12.4" fill="#131722" textLength="47" lengthAdjust="spacingAndGlyphs">3,200.00</text>
<text x="1484" y="655.5" font-size="12.4" fill="#131722" textLength="47" lengthAdjust="spacingAndGlyphs">3,000.00</text>
<text x="1483.3" y="732.5" font-size="12.4" fill="#131722" textLength="29.2" lengthAdjust="spacingAndGlyphs">600 K</text>
<text x="1483.3" y="784.5" font-size="12.4" fill="#131722" textLength="29.2" lengthAdjust="spacingAndGlyphs">400 K</text>
<text x="1483.3" y="835.5" font-size="12.4" fill="#131722" textLength="29.2" lengthAdjust="spacingAndGlyphs">200 K</text>
<rect x="1476" y="100" width="60" height="17" rx="2" fill="#2962FF"/>
<text x="1530" y="112.0" font-size="12" font-weight="bold" text-anchor="end" fill="#fff">5,421.96</text>
<rect x="1476" y="161" width="60" height="16.69999999999999" rx="2" fill="#E91E63"/>
<text x="1530" y="172.85" font-size="12" font-weight="bold" text-anchor="end" fill="#fff">5,109.64</text>
<rect x="1476" y="177.7" width="60" height="17.0" rx="2" fill="#2962FF"/>
<text x="1530" y="189.7" font-size="12" font-weight="bold" text-anchor="end" fill="#fff">5,045.59</text>
<rect x="1476" y="194.7" width="60" height="17.0" rx="2" fill="#F7B500"/>
<text x="1530" y="206.7" font-size="12" font-weight="bold" text-anchor="end" fill="#131722">4,940.05</text>
<rect x="1476" y="211.7" width="60" height="17.100000000000023" rx="2" fill="#FF0000"/>
<text x="1530" y="223.75" font-size="12" font-weight="bold" text-anchor="end" fill="#fff">4,887.72</text>
<rect x="1476" y="228.8" width="60" height="30.8" rx="2" fill="#F23645"/>
<text x="1530" y="240.8" font-size="12" font-weight="bold" text-anchor="end" fill="#fff">4,848.51</text>
<text x="1530" y="254.3" font-size="12" font-weight="bold" text-anchor="end" fill="#FFD6DA">18:47:52</text>
<rect x="1476" y="272" width="60" height="16.80000000000001" rx="2" fill="#2962FF"/>
<text x="1530" y="283.9" font-size="12" font-weight="bold" text-anchor="end" fill="#fff">4,656.54</text>
<rect x="1476" y="330" width="60" height="17" rx="2" fill="#2962FF"/>
<text x="1530" y="342.0" font-size="12" font-weight="bold" text-anchor="end" fill="#fff">4,400.00</text>
<rect x="1476" y="347" width="60" height="16.69999999999999" rx="2" fill="#089981"/>
<text x="1530" y="358.85" font-size="12" font-weight="bold" text-anchor="end" fill="#fff">4,365.80</text>
<rect x="1454" y="37" width="21" height="20.7" rx="2" fill="#131722"/>
<circle cx="1464.3" cy="47.3" r="6.8" fill="none" stroke="#fff" stroke-width="1"/>
<path d="M1464.3 43.5V51.1M1460.5 47.3H1468.1" stroke="#fff" stroke-width="1.2"/>
<rect x="1476" y="37" width="60" height="20.7" rx="2" fill="#131722"/>
<text x="1530" y="50.8" font-size="12" font-weight="bold" text-anchor="end" fill="#fff">5,692.56</text>
<rect x="1476" y="854" width="51.8" height="16.8" rx="2" fill="#22AB94"/>
<text x="1483" y="866.5" font-size="12" font-weight="bold" fill="#fff" textLength="39" lengthAdjust="spacingAndGlyphs">80.76 K</text>
<rect x="802" y="884" width="94" height="10" rx="2" fill="#131722"/>
<rect x="1419.5" y="3.5" width="22.5" height="23" rx="4" fill="#fff" stroke="#F0F3FA"/>
<path d="M1431 11V21M1427 17L1431 21L1435 17" stroke="#B2B5BE" stroke-width="1.2" fill="none"/>
<rect x="1447" y="3.5" width="23.5" height="23" rx="4" fill="#fff" stroke="#F0F3FA"/>
<path d="M1454.6 15V12.6Q1454.6 11 1456.2 11H1462.9Q1464.5 11 1464.5 12.6V15M1454.6 17V19Q1454.6 20.6 1456.2 20.6H1462.9Q1464.5 20.6 1464.5 19V17" stroke="#B2B5BE" stroke-width="1.2" fill="none"/>
</svg>
<!-- legend -->
<svg width="1538" height="892" viewBox="0 0 1538 892" style="left:0;top:0">
<text x="377.90" y="20.2" font-size="14" fill="#131722" font-weight="normal" textLength="11.70" lengthAdjust="spacingAndGlyphs">O</text>
<text x="389.70" y="20.2" font-size="14" fill="#F23645" font-weight="normal" textLength="52.10" lengthAdjust="spacingAndGlyphs">4,677.34</text>
<text x="447.10" y="20.2" font-size="14" fill="#131722" font-weight="normal" textLength="8.40" lengthAdjust="spacingAndGlyphs">H</text>
<text x="456.30" y="20.2" font-size="14" fill="#F23645" font-weight="normal" textLength="51.60" lengthAdjust="spacingAndGlyphs">4,993.70</text>
<text x="513.20" y="20.2" font-size="14" fill="#131722" font-weight="normal" textLength="7.70" lengthAdjust="spacingAndGlyphs">L</text>
<text x="520.50" y="20.2" font-size="14" fill="#F23645" font-weight="normal" textLength="51.10" lengthAdjust="spacingAndGlyphs">4,677.32</text>
<text x="577.10" y="20.2" font-size="14" fill="#131722" font-weight="normal" textLength="8.40" lengthAdjust="spacingAndGlyphs">C</text>
<text x="585.60" y="20.2" font-size="14" fill="#F23645" font-weight="normal" textLength="50.70" lengthAdjust="spacingAndGlyphs">4,946.65</text>
<text x="643.30" y="20.2" font-size="14" fill="#F23645" font-weight="normal" textLength="98.20" lengthAdjust="spacingAndGlyphs">+286.63 (+6.15%)</text>
<rect x="3.5" y="3.5" width="383" height="23" rx="3.5" fill="#fff" stroke="#2962FF" stroke-width="1"/>
<circle cx="17" cy="14.8" r="8.9" fill="#D89E04"/>
<path d="M14.9 10.9H19.4L20.2 13.8H14.1Z M11.4 15.2H15.3L16.3 17.8H10.1Z M18.1 15.2H22.3L24.1 17.8H17.3Z" fill="#fff"/>
<text x="29.60" y="20.8" font-size="14" fill="#131722" font-weight="normal" textLength="295.90" lengthAdjust="spacingAndGlyphs">Gold Spot / U.S. Dollar · 1D · Pepperstone</text>
<path d="M337 9.2H348.9L345.2 15L348.9 20.8H337Z" fill="#C9CBD1"/>
<circle cx="365.2" cy="15" r="1.7" fill="none" stroke="#131722" stroke-width="1.05"/>
<circle cx="371.2" cy="15" r="1.7" fill="none" stroke="#131722" stroke-width="1.05"/>
<circle cx="377.2" cy="15" r="1.7" fill="none" stroke="#131722" stroke-width="1.05"/>
<rect x="8.5" y="31.5" width="72" height="33" rx="5" fill="#fff" stroke="#F23645"/>
<text x="18.60" y="44.9" font-size="13" fill="#F23645" font-weight="normal" stroke="#F23645" stroke-width="0.35" textLength="50.90" lengthAdjust="spacingAndGlyphs">4,848.41</text>
<text x="31.90" y="58.5" font-size="10.5" fill="#F23645" font-weight="normal" textLength="24.60" lengthAdjust="spacingAndGlyphs">SELL</text>
<rect x="88.4" y="42" width="20.4" height="10" fill="#fff"/>
<text x="88.40" y="50.7" font-size="11" fill="#131722" font-weight="normal" textLength="20.20" lengthAdjust="spacingAndGlyphs">0.22</text>
<rect x="116.5" y="31.5" width="72" height="33" rx="5" fill="#fff" stroke="#2962FF"/>
<text x="127.40" y="44.9" font-size="13" fill="#2962FF" font-weight="normal" stroke="#2962FF" stroke-width="0.35" textLength="51.20" lengthAdjust="spacingAndGlyphs">4,848.63</text>
<text x="142.40" y="58.5" font-size="10.5" fill="#2962FF" font-weight="normal" textLength="20.70" lengthAdjust="spacingAndGlyphs">BUY</text>
<text x="7.50" y="85.8" font-size="12.5" fill="#131722" font-weight="normal" textLength="60.20" lengthAdjust="spacingAndGlyphs">MA Ribbon</text>
<text x="70.70" y="85.8" font-size="12.5" fill="#787B86" font-weight="normal" textLength="168.70" lengthAdjust="spacingAndGlyphs">SMA 5 SMA 10 SMA 20 SMA 60</text>
<text x="246.40" y="85.8" font-size="12.5" fill="#F7B500" font-weight="normal" textLength="51.50" lengthAdjust="spacingAndGlyphs">5,055.44</text>
<text x="303.70" y="85.8" font-size="12.5" fill="#2962FF" font-weight="normal" textLength="51.10" lengthAdjust="spacingAndGlyphs">5,022.00</text>
<text x="359.60" y="85.8" font-size="12.5" fill="#E91E63" font-weight="normal" textLength="51.00" lengthAdjust="spacingAndGlyphs">4,806.00</text>
<text x="416.60" y="85.8" font-size="12.5" fill="#FF0000" font-weight="normal" textLength="50.60" lengthAdjust="spacingAndGlyphs">4,433.70</text>
<rect x="3" y="99" width="150" height="14" fill="rgba(255,255,255,0.55)"/>
<text x="7.70" y="109.5" font-size="12.5" fill="#131722" font-weight="normal" textLength="23.60" lengthAdjust="spacingAndGlyphs">SMA</text>
<text x="34.30" y="109.5" font-size="12.5" fill="#787B86" font-weight="normal" textLength="53.70" lengthAdjust="spacingAndGlyphs">144 close</text>
<text x="96.20" y="109.5" font-size="12.5" fill="#089981" font-weight="normal" textLength="50.60" lengthAdjust="spacingAndGlyphs">3,987.18</text>
<rect x="8.5" y="120.5" width="28" height="20" rx="3" fill="#fff" stroke="#E0E3EB"/>
<path d="M18.8 132.6L22.5 128.9L26.2 132.6" stroke="#131722" stroke-width="1.5" fill="none"/>
<text x="7.80" y="713.8" font-size="12.5" fill="#131722" font-weight="normal" textLength="17.70" lengthAdjust="spacingAndGlyphs">Vol</text>
<text x="32.90" y="713.8" font-size="12.5" fill="#22AB94" font-weight="normal" textLength="49.70" lengthAdjust="spacingAndGlyphs">604.55 K</text>
</svg>
<!-- TV logo -->
<svg width="1538" height="892" viewBox="0 0 1538 892" style="left:0;top:0">
<g stroke="#fff" stroke-width="3.5" stroke-linejoin="round" fill="#fff">
<path d="M11 855H22.7V870H17V860.2H11Z"/>
<circle cx="27.7" cy="858" r="2.5"/>
<path d="M31.8 855H41L36.4 870H27.4Z"/>
<text x="47.4" y="869.9" font-size="20.5" font-weight="bold" textLength="121.8" lengthAdjust="spacingAndGlyphs">TradingView</text>
</g>
<g fill="#131722">
<path d="M11 855H22.7V870H17V860.2H11Z"/>
<circle cx="27.7" cy="858" r="2.5"/>
<path d="M31.8 855H41L36.4 870H27.4Z"/>
<text x="47.4" y="869.9" font-size="20.5" font-weight="bold" textLength="121.8" lengthAdjust="spacingAndGlyphs">TradingView</text>
</g>
</svg>
</body></html>
